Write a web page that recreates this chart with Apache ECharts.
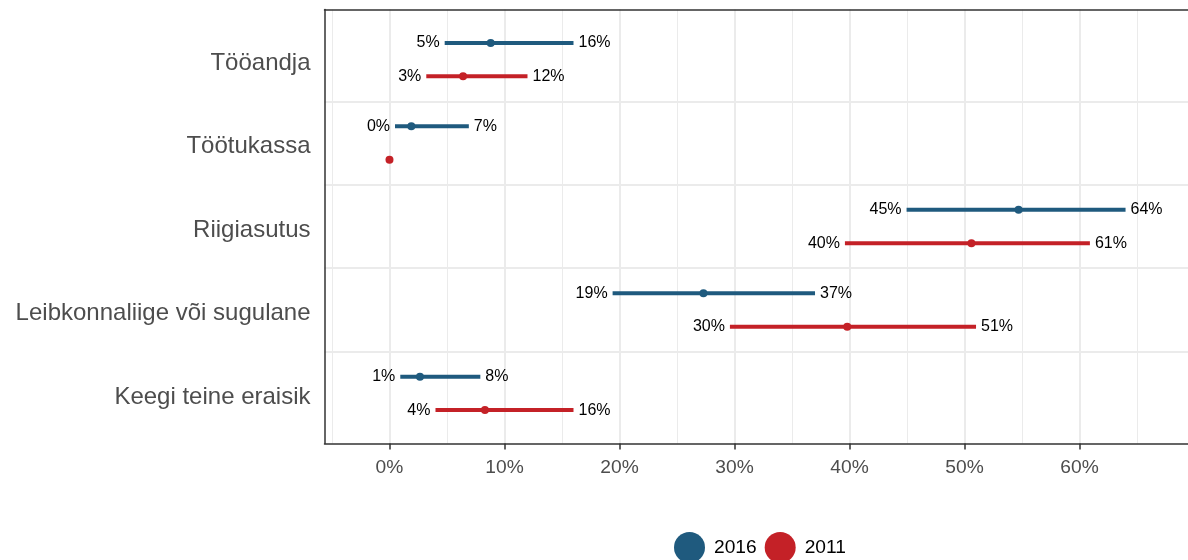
<!DOCTYPE html>
<html>
<head>
<meta charset="utf-8">
<script src="https://cdn.jsdelivr.net/npm/echarts@6/dist/echarts.min.js"></script>
<style>
  html, body { margin: 0; padding: 0; background: #fff; }
  #chart { width: 1188px; height: 560px; }
</style>
</head>
<body>
<div id="chart"></div>
<script>
// categories, top to bottom
var categories = ['Tööandja', 'Töötukassa', 'Riigiasutus', 'Leibkonnaliige või sugulane', 'Keegi teine eraisik'];

// 2016: estimate, lower and upper bound (%)
var est2016 = [8.8, 1.9, 54.7, 27.3, 2.65];
var lo2016 = [4.8, 0.48, 44.96, 19.4, 0.94];
var hi2016 = [16.0, 6.9, 64.0, 37.0, 7.9];

// 2011
var est2011 = [6.4, 0, 50.6, 39.8, 8.3];
var lo2011 = [3.2, null, 39.6, 29.6, 4.0];
var hi2011 = [12.0, null, 60.9, 51.0, 16.0];

var xTicks = [0, 10, 20, 30, 40, 50, 60];

var blue = '#1f5a7e';
var red = '#c42127';
var font = 'Arial, "Liberation Sans", sans-serif';

var chartDom = document.getElementById('chart');
var myChart = echarts.init(chartDom);

function rows(est, lo, hi, shift) {
  return categories.map(function (c, i) {
    return [i + shift, lo[i], hi[i], est[i]];
  });
}

function intervalRenderer(color) {
  return function (params, api) {
    var y = api.value(0);
    var lo = api.value(1);
    var hi = api.value(2);
    if (lo == null || hi == null || isNaN(lo) || isNaN(hi)) return;
    var p1 = api.coord([lo, y]);
    var p2 = api.coord([hi, y]);
    return {
      type: 'group',
      children: [
        {type: 'line', shape: {x1: p1[0], y1: p1[1], x2: p2[0], y2: p2[1]},
          style: {stroke: color, lineWidth: 4, lineCap: 'butt'}},
        {type: 'text', x: p1[0] - 5, y: p1[1],
          style: {text: Math.round(lo) + '%', align: 'right', verticalAlign: 'middle',
            fill: '#000', fontSize: 16, fontFamily: font}},
        {type: 'text', x: p2[0] + 5, y: p2[1],
          style: {text: Math.round(hi) + '%', align: 'left', verticalAlign: 'middle',
            fill: '#000', fontSize: 16, fontFamily: font}}
      ]
    };
  };
}

// grid lines
var gridLines = [];
for (var v = -5; v <= 65; v += 5) {
  var major = v % 10 === 0;
  gridLines.push({xAxis: v, lineStyle: {color: '#ebebeb', width: major ? 2 : 1, type: 'solid'}});
}
for (var k = 0; k < categories.length - 1; k++) {
  gridLines.push({yAxis: k + 0.5, lineStyle: {color: '#ebebeb', width: 2, type: 'solid'}});
}

var option = {
  animation: false,
  textStyle: {fontFamily: font},
  grid: {left: 324.5, right: 0, top: 9.5, bottom: 116.5, containLabel: false},
  legend: {
    data: ['2016', '2011'],
    left: 669,
    top: 527,
    icon: 'circle',
    itemWidth: 31,
    itemHeight: 31,
    itemGap: 8,
    textStyle: {color: '#000', fontSize: 19.2, fontFamily: font, padding: [0, 0, 0, 4]}
  },
  xAxis: [
    {
      type: 'value',
      min: -5.65,
      max: 69.43,
      axisLine: {show: true, onZero: false, lineStyle: {color: '#333', width: 1.5}},
      axisTick: {show: true, customValues: xTicks, length: 6, lineStyle: {color: '#333', width: 1.5}},
      axisLabel: {customValues: xTicks, formatter: function (v) { return v + '%'; },
        color: '#4d4d4d', fontSize: 19.2, margin: 15, fontFamily: font},
      splitLine: {show: false}
    },
    {
      type: 'value',
      position: 'top',
      min: -5.65,
      max: 69.43,
      axisLine: {show: true, onZero: false, lineStyle: {color: '#333', width: 1.5}},
      axisTick: {show: false},
      axisLabel: {show: false},
      splitLine: {show: false}
    }
  ],
  yAxis: {
    type: 'value',
    inverse: true,
    min: -0.6,
    max: 4.6,
    axisLine: {show: true, onZero: false, lineStyle: {color: '#333', width: 1.5}},
    axisTick: {show: false},
    axisLabel: {
      customValues: [0, 1, 2, 3, 4],
      formatter: function (v) { return '{c|' + categories[v] + '}'; },
      margin: 14,
      rich: {c: {color: '#4d4d4d', fontSize: 24, fontFamily: font, padding: [7, 0, 0, 0]}}
    },
    splitLine: {show: false}
  },
  series: [
    {
      type: 'line',
      data: [],
      silent: true,
      z: 0,
      markLine: {silent: true, z: 0, symbol: ['none', 'none'], label: {show: false},
        emphasis: {disabled: true}, animation: false, data: gridLines}
    },
    {
      name: '2016', type: 'custom', z: 10,
      itemStyle: {color: blue},
      renderItem: intervalRenderer(blue),
      encode: {x: [1, 2], y: 0},
      data: rows(est2016, lo2016, hi2016, -0.2)
    },
    {
      name: '2011', type: 'custom', z: 10,
      itemStyle: {color: red},
      renderItem: intervalRenderer(red),
      encode: {x: [1, 2], y: 0},
      data: rows(est2011, lo2011, hi2011, 0.2)
    },
    {
      name: '2016', type: 'scatter', z: 11, symbolSize: 8,
      itemStyle: {color: blue, opacity: 1},
      data: est2016.map(function (e, i) { return [e, i - 0.2]; })
    },
    {
      name: '2011', type: 'scatter', z: 11, symbolSize: 8,
      itemStyle: {color: red, opacity: 1},
      data: est2011.map(function (e, i) { return [e, i + 0.2]; })
    }
  ]
};

option && myChart.setOption(option);
</script>
</body>
</html>
